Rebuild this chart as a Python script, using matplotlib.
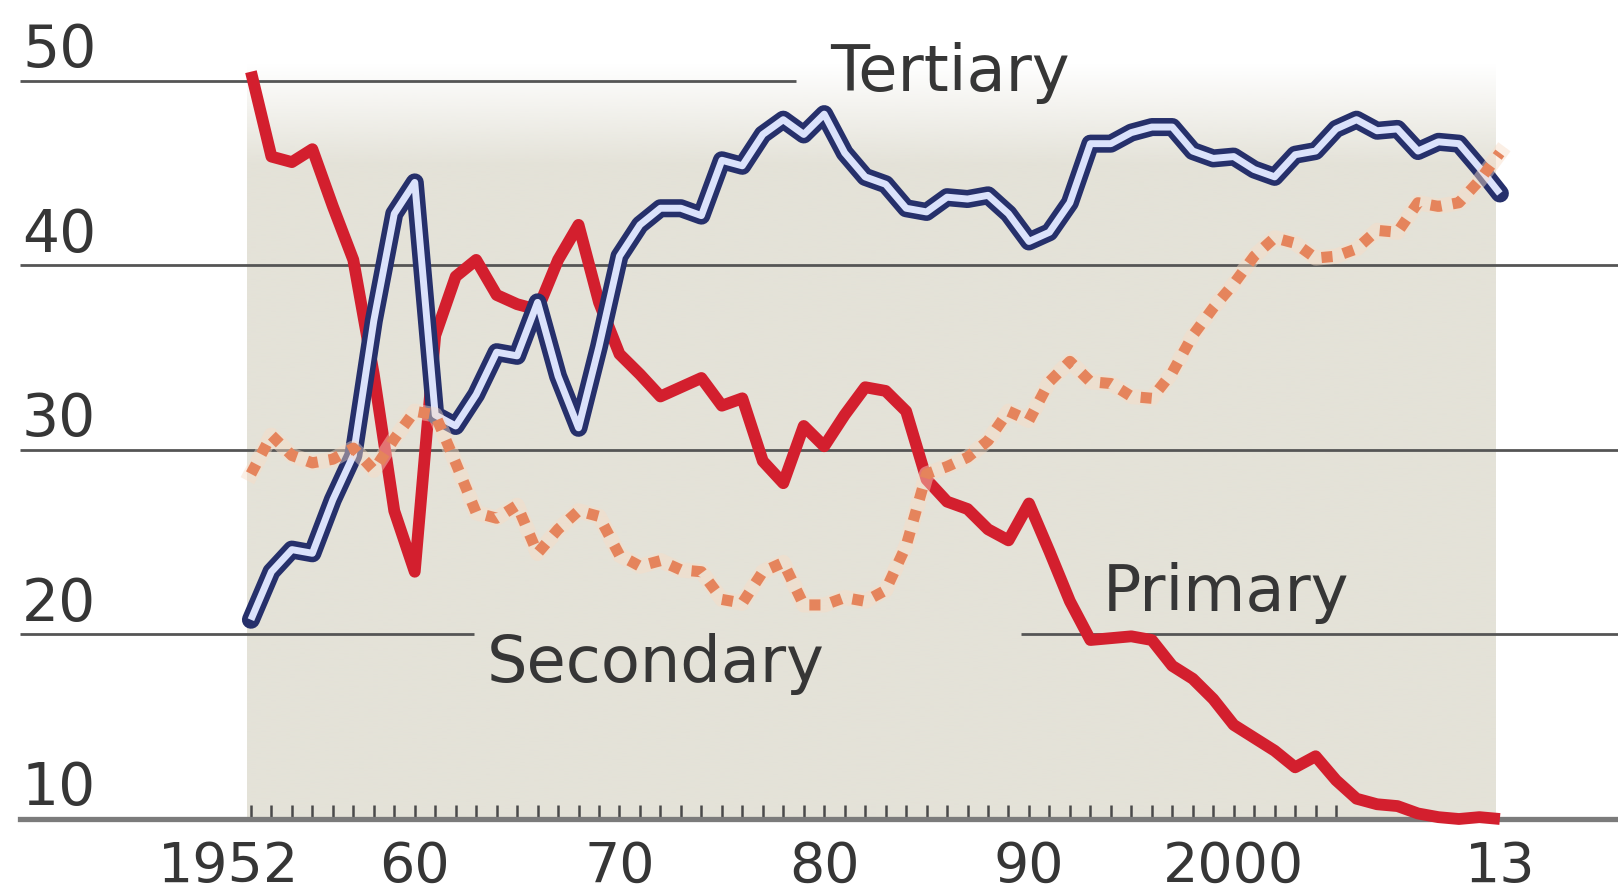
import numpy as np
import matplotlib
matplotlib.use("Agg")
import matplotlib.pyplot as plt
from matplotlib.colors import to_rgb
from matplotlib.transforms import ScaledTranslation

# GDP by sector, % of total
years = np.arange(1952, 2014)

primary = [50.5, 45.9, 45.6, 46.3, 43.2, 40.3, 34.1, 26.7, 23.4, 36.2,
           39.4, 40.3, 38.4, 37.9, 37.6, 40.3, 42.2, 38.0, 35.2, 34.1,
           32.9, 33.4, 33.9, 32.4, 32.8, 29.4, 28.2, 31.3, 30.2, 31.9,
           33.4, 33.2, 32.1, 28.4, 27.2, 26.8, 25.7, 25.1, 27.1, 24.5,
           21.8, 19.7, 19.8, 19.9, 19.7, 18.3, 17.6, 16.5, 15.1, 14.4,
           13.7, 12.8, 13.4, 12.1, 11.1, 10.8, 10.7, 10.3, 10.1, 10.0,
           10.1, 10.0]

secondary = [20.8, 23.4, 24.6, 24.4, 27.3, 29.7, 37.0, 42.8, 44.5, 31.9,
             31.3, 33.0, 35.3, 35.1, 38.0, 34.0, 31.2, 35.6, 40.5, 42.2,
             43.1, 43.1, 42.7, 45.7, 45.4, 47.1, 47.9, 47.1, 48.2, 46.1,
             44.8, 44.4, 43.1, 42.9, 43.7, 43.6, 43.8, 42.8, 41.3, 41.8,
             43.4, 46.6, 46.6, 47.2, 47.5, 47.5, 46.2, 45.8, 45.9, 45.2,
             44.8, 46.0, 46.2, 47.4, 47.9, 47.3, 47.4, 46.2, 46.7, 46.6,
             45.3, 43.9]

tertiary = [28.7, 30.8, 29.7, 29.3, 29.5, 30.1, 28.9, 30.6, 32.1, 31.9,
            29.3, 26.6, 26.3, 27.0, 24.4, 25.7, 26.7, 26.4, 24.3, 23.7,
            24.0, 23.5, 23.4, 21.9, 21.7, 23.4, 23.9, 21.6, 21.6, 22.0,
            21.8, 22.4, 24.8, 28.7, 29.1, 29.6, 30.5, 32.1, 31.6, 33.7,
            34.8, 33.7, 33.6, 32.9, 32.8, 34.2, 36.2, 37.7, 39.0, 40.5,
            41.5, 41.2, 40.4, 40.5, 40.9, 41.9, 41.8, 43.4, 43.2, 43.4,
            44.6, 46.1]

y_ticks = [10, 20, 30, 40, 50]
label_years = [1952, 1960, 1970, 1980, 1990, 2000, 2013]
label_text = ["1952", "60", "70", "80", "90", "2000", "13"]
tick_years = np.arange(1952, 2006)

x0, x1 = 1940.72, 2018.77
text_col = "#363636"

fig = plt.figure(figsize=(16.18, 8.95), dpi=100)
ax = fig.add_axes([20 / 1618, 75 / 895, 1 - 20 / 1618, 820 / 895])

# shaded period, fading out towards the top
shade = np.ones((256, 1, 4))
shade[..., :3] = to_rgb("#e4e2d8")
yy = np.linspace(10, 52, 256)
shade[:, 0, 3] = np.clip((51 - yy) / 5.5, 0, 1)
ax.imshow(shade, extent=(1951.8, 2012.8, 10, 52), origin="lower",
          aspect="auto", interpolation="bilinear", zorder=0)

# horizontal rules
grid_kw = dict(color="#555555", lw=2.0, zorder=1)
ax.hlines([30, 40], x0, x1, **grid_kw)
ax.hlines(50, x0, 1978.6, **grid_kw)
ax.hlines(20, x0, 1962.9, **grid_kw)
ax.hlines(20, 1989.6, x1, **grid_kw)

for v in y_ticks:
    ax.text(x0 + 0.1, v + 0.8, str(v), fontsize=42, color=text_col,
            ha="left", va="baseline")

# lines
ax.plot(years, primary, color="#d31f2e", lw=8.5, solid_joinstyle="round",
        solid_capstyle="butt", zorder=3, clip_on=False)
ax.plot(years, secondary, color="#26306b", lw=13, solid_joinstyle="round",
        solid_capstyle="round", zorder=4)
ax.plot(years, secondary, color="#dbe2fb", lw=5, solid_joinstyle="round",
        solid_capstyle="butt", zorder=4.1)
ax.plot(years, tertiary, color="#f8dcc6", lw=11, alpha=0.45,
        solid_joinstyle="round", zorder=4.5)
ax.plot(years, tertiary, color="#e5845c", lw=8, linestyle=(0, (1.0, 1.0)),
        dash_capstyle="butt", zorder=5)

# series names
ax.text(1980.3, 49.5, "Tertiary", fontsize=46, color=text_col, zorder=6)
ax.text(1963.5, 17.5, "Secondary", fontsize=46, color=text_col, zorder=6)
ax.text(1993.6, 21.35, "Primary", fontsize=46, color=text_col, zorder=6)

ax.set_xlim(x0, x1)
ax.set_ylim(10, 54.44)

for s in ["top", "left", "right"]:
    ax.spines[s].set_visible(False)
ax.spines["bottom"].set_color("#7b7b7b")
ax.spines["bottom"].set_linewidth(3.8)

ax.set_yticks([])
ax.set_xticks(label_years)
ax.set_xticklabels(label_text)
ax.set_xticks(tick_years, minor=True)
ax.xaxis.remove_overlapping_locs = False
ax.tick_params(axis="x", which="major", length=0, pad=14.5, labelsize=40,
               labelcolor=text_col)
ax.tick_params(axis="x", which="minor", direction="in", length=10,
               width=1.8, color="#4a4a4a")

first = ax.get_xticklabels()[0]
first.set_transform(first.get_transform()
                    + ScaledTranslation(-0.22, 0, fig.dpi_scale_trans))

fig.savefig("out.png", dpi=100, facecolor="white")
